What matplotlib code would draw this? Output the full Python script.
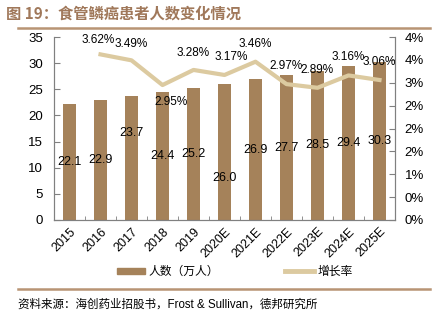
import matplotlib
matplotlib.use('Agg')
import matplotlib.pyplot as plt
from matplotlib.ticker import FuncFormatter, MultipleLocator
from matplotlib.lines import Line2D

plt.rcParams['font.family'] = ['Liberation Sans', 'Noto Sans CJK SC', 'DejaVu Sans']

years = ['2015', '2016', '2017', '2018', '2019', '2020E', '2021E',
         '2022E', '2023E', '2024E', '2025E']
patients = [22.1, 22.9, 23.7, 24.4, 25.2, 26.0, 26.9, 27.7, 28.5, 29.4, 30.3]
growth_years = years[1:]
growth = [3.62, 3.49, 2.95, 3.28, 3.17, 3.46, 2.97, 2.89, 3.16, 3.06]

# label nudges (points) -- the source moved a few labels by hand
bar_lbl_dy = [0, 0, 18, 0, 0, -19, 0, 0, 0, 0, 0]
pct_lbl_off = [(-1.5, 10), (0, 12), (6.5, -12), (0, 12.5), (4.5, 13), (0, 13),
               (0, 13), (0, 13), (0, 13), (0, 13)]

BAR = '#a5825a'
LINE = '#dccaa0'
BROWN = '#a0785a'

fig = plt.figure(figsize=(4.39, 3.24), dpi=100)
ax = fig.add_axes([54 / 439, 1 - 220 / 324, 341 / 439, 183 / 324])
ax2 = ax.twinx()

x = list(range(len(years)))
ax.bar(x, patients, width=0.42, color=BAR, zorder=2)
for i, v in enumerate(patients):
    ax.annotate(f'{v:.1f}', (i, v / 2), xytext=(0, bar_lbl_dy[i]),
                textcoords='offset points', ha='center', va='center',
                fontsize=9, color='black', zorder=5)

gx = x[1:]
ax2.plot(gx, [g / 100 for g in growth], color=LINE, lw=3, zorder=3)
for i, g in enumerate(growth):
    dx, dy = pct_lbl_off[i]
    ax2.annotate(f'{g:.2f}%', (gx[i], g / 100), xytext=(dx, dy),
                 textcoords='offset points', ha='center', va='center',
                 fontsize=8.5, color='black')

ax.set_xlim(-0.5, len(years) - 0.5)
ax.set_ylim(0, 35)
ax.yaxis.set_major_locator(MultipleLocator(5))
ax2.set_ylim(0, 0.04)
ax2.yaxis.set_major_locator(MultipleLocator(0.005))
ax2.yaxis.set_major_formatter(FuncFormatter(lambda v, p: f'{v * 100:.0f}%'))

ax.set_xticks(x)
ax.set_xticklabels(years, rotation=45, ha='right', rotation_mode='anchor', fontsize=9)
ax.tick_params(axis='x', length=0, pad=4)
ax.set_xticks([i + 0.5 for i in x[:-1]], minor=True)
ax.tick_params(axis='x', which='minor', direction='in', length=3, color='#808080')
ax.tick_params(axis='y', direction='in', length=4, labelsize=9.5, color='#808080', pad=8)
ax2.tick_params(axis='y', direction='in', length=4, labelsize=9.5, color='#808080', pad=7)

for a in (ax, ax2):
    a.spines['top'].set_visible(False)
    for s in ('left', 'right', 'bottom'):
        a.spines[s].set_color('#808080')
        a.spines[s].set_linewidth(0.8)

# title and rules
fig.text(6 / 439, 1 - 14 / 324, '图 19：食管鳞癌患者人数变化情况', fontsize=11,
         fontweight='bold', color=BROWN, va='center',
         family=['Noto Sans CJK SC', 'DejaVu Sans'])
fig.add_artist(Line2D([18 / 439, 430 / 439], [1 - 28 / 324] * 2, color='#b89474', lw=1.8))
fig.add_artist(Line2D([18 / 439, 430 / 439], [1 - 289 / 324] * 2, color='#b89474', lw=1.8))
fig.text(18 / 439, 1 - 305 / 324, '资料来源：海创药业招股书，Frost & Sullivan，德邦研究所',
         fontsize=8.3, va='center', color='black')

# legend
handles = [plt.Rectangle((0, 0), 1, 1, color=BAR),
           Line2D([0], [0], color=LINE, lw=3.5)]
fig.legend(handles, ['人数（万人）', '增长率'], loc='center left', ncol=2,
           bbox_to_anchor=(117 / 439, 1 - 272 / 324), frameon=False, fontsize=8.5,
           handlelength=2.4, handleheight=0.45, columnspacing=5.6, handletextpad=0.3,
           borderaxespad=0, borderpad=0)

fig.savefig('out.png', dpi=100)
